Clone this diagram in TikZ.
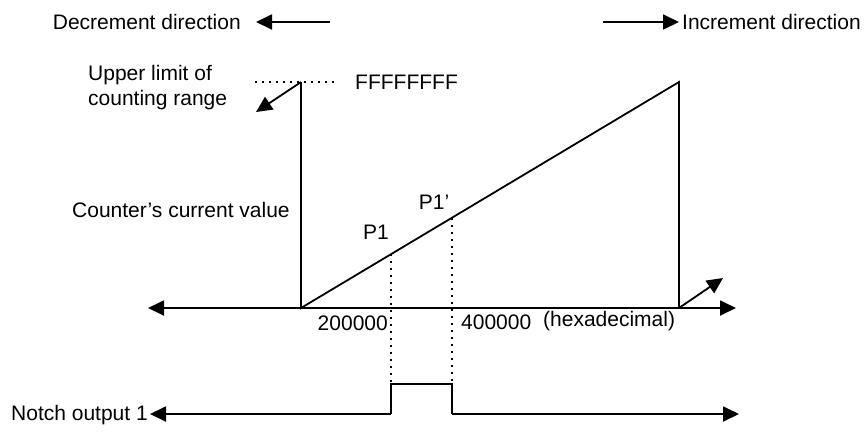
\documentclass[tikz,border=0pt]{standalone}
\usepackage{fontspec}
\setmainfont{Liberation Sans}
\usetikzlibrary{arrows.meta}
\begin{document}
\begin{tikzpicture}[x=1pt,y=-1pt,
  every node/.style={inner sep=0pt,font=\fontsize{21}{25}\selectfont},
  ln/.style={line width=1.8pt},
  tip/.tip={Triangle[length=16pt,width=15pt]},
  arr/.style={ln,-tip},
  dotline/.style={line width=2pt,dash pattern=on 2pt off 5pt}]
\useasboundingbox (0,0) rectangle (867,432);
% top direction arrows
\coordinate (d0) at (330,22); \coordinate (d1) at (256,22);
\coordinate (i0) at (603,22); \coordinate (i1) at (679,22);
\draw[arr] (d0) -- (d1);
\draw[arr] (i0) -- (i1);
\node[anchor=east] (dec) at (241,22) {Decrement direction};
\node[anchor=west] (inc) at (682,22) {Increment direction};
% upper limit
\node[anchor=west,align=left] (ul) at (88,88) {Upper limit of\\counting range};
\coordinate (top) at (301,82);
\coordinate (dl) at (255,82); \coordinate (dr) at (338,82);
\draw[dotline] (dl) -- (dr);
\node[anchor=west] (ff) at (355,82) {FFFFFFFF};
\coordinate (ultip) at (256,112);
\draw[arr] (top) -- (ultip);
% counter
\node[anchor=west] (ccv) at (72,210) {Counter’s current value};
\coordinate (o) at (301,308);
\coordinate (peak) at (679,82);
\coordinate (end) at (679,308);
\draw[ln] (top) -- (o) -- (peak) -- (end);
% axis
\coordinate (axl) at (148,308); \coordinate (axr) at (736,308);
\draw[ln,tip-tip] (axl) -- (axr);
\coordinate (wrap) at (723,278);
\draw[arr] (end) -- (wrap);
% P1 points
\coordinate (p1) at (391,254); \coordinate (p1b) at (391,384);
\coordinate (p2) at (452,218); \coordinate (p2b) at (452,384);
\draw[dotline] (p1) -- (p1b);
\draw[dotline] (p2) -- (p2b);
\node (lp1) at (376,232) {P1};
\node (lp2) at (434,202) {P1’};
\node[anchor=east] (n2) at (388,323) {200000};
\node[anchor=west] (n4) at (461,322) {400000};
\node[anchor=west] (hex) at (543,321) {(hexadecimal)};
% notch output
\node[anchor=west] (no) at (11,415) {Notch output 1};
\coordinate (nl) at (150,414); \coordinate (nr) at (739,414);
\coordinate (a1) at (391,414); \coordinate (a2) at (391,384);
\coordinate (b2) at (452,384); \coordinate (b1) at (452,414);
\draw[ln,tip-] (nl) -- (a1);
\draw[ln] (a1) -- (a2) -- (b2) -- (b1);
\draw[arr] (b1) -- (nr);
\end{tikzpicture}
\end{document}
